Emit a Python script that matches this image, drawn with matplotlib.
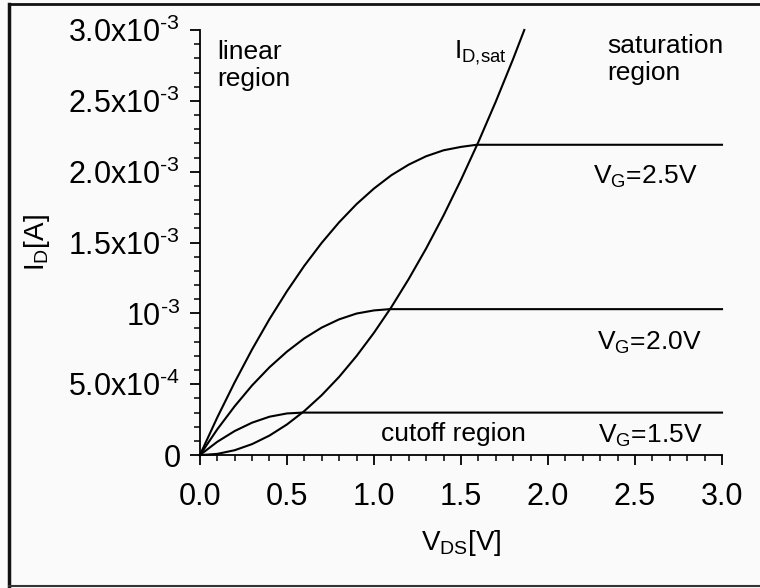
import matplotlib.pyplot as plt
from matplotlib.lines import Line2D
from matplotlib.ticker import FixedLocator, MultipleLocator, FixedFormatter

plt.rcParams['font.family'] = ['Liberation Sans', 'DejaVu Sans']
plt.rcParams['mathtext.fontset'] = 'custom'
plt.rcParams['mathtext.rm'] = 'Liberation Sans'

# drain current vs drain-source voltage, one curve per gate voltage
vds_15 = [0.0, 0.1, 0.2, 0.3, 0.4, 0.5, 0.59, 3.0]
id_15 = [0.0, 9.4e-5, 1.70e-4, 2.29e-4, 2.71e-4, 2.94e-4, 3.0e-4, 3.0e-4]

vds_20 = [0.0, 0.1, 0.2, 0.3, 0.4, 0.5, 0.6, 0.7, 0.8, 0.9, 1.0, 1.09, 3.0]
id_20 = [0.0, 1.82e-4, 3.45e-4, 4.92e-4, 6.20e-4, 7.30e-4, 8.24e-4, 9.00e-4,
         9.58e-4, 9.99e-4, 1.021e-3, 1.03e-3, 1.03e-3]

vds_25 = [0.0, 0.1, 0.2, 0.3, 0.4, 0.5, 0.6, 0.7, 0.8, 0.9, 1.0, 1.1, 1.2,
          1.3, 1.4, 1.5, 1.59, 3.0]
id_25 = [0.0, 2.66e-4, 5.14e-4, 7.46e-4, 9.60e-4, 1.156e-3, 1.336e-3, 1.498e-3,
         1.643e-3, 1.771e-3, 1.881e-3, 1.975e-3, 2.050e-3, 2.109e-3, 2.151e-3,
         2.175e-3, 2.19e-3, 2.19e-3]

# saturation boundary I_D,sat
vds_sat = [0.0, 0.1, 0.2, 0.3, 0.4, 0.5, 0.6, 0.7, 0.8, 0.9, 1.0, 1.1, 1.2,
           1.3, 1.4, 1.5, 1.6, 1.7, 1.8, 1.864]
id_sat = [0.0, 8.6e-6, 3.45e-5, 7.77e-5, 1.38e-4, 2.16e-4, 3.11e-4, 4.23e-4,
          5.52e-4, 6.99e-4, 8.63e-4, 1.044e-3, 1.243e-3, 1.458e-3, 1.691e-3,
          1.942e-3, 2.209e-3, 2.494e-3, 2.796e-3, 3.0e-3]

HY = '\u2010'  # plain hyphen for the exponents
y_ticks = [0, 5e-4, 1e-3, 1.5e-3, 2e-3, 2.5e-3, 3e-3]
y_labels = ['0',
            r'5.0x10$^{\mathregular{%s4}}$' % HY,
            r'10$^{\mathregular{%s3}}$' % HY,
            r'1.5x10$^{\mathregular{%s3}}$' % HY,
            r'2.0x10$^{\mathregular{%s3}}$' % HY,
            r'2.5x10$^{\mathregular{%s3}}$' % HY,
            r'3.0x10$^{\mathregular{%s3}}$' % HY]
x_ticks = [0, 0.5, 1.0, 1.5, 2.0, 2.5, 3.0]
x_labels = ['0.0', '0.5', '1.0', '1.5', '2.0', '2.5', '3.0']

fig = plt.figure(figsize=(7.6, 5.88), dpi=100, facecolor='#fafafa')
ax = fig.add_axes([0.263, 0.226, 0.687, 0.723])
ax.set_facecolor('#fafafa')

for x, y in [(vds_15, id_15), (vds_20, id_20), (vds_25, id_25), (vds_sat, id_sat)]:
    ax.plot(x, y, color='black', lw=1.5, clip_on=False)

ax.set_xlim(0, 3.0)
ax.set_ylim(0, 3e-3)
ax.spines['top'].set_visible(False)
ax.spines['right'].set_visible(False)
for s in ('left', 'bottom'):
    ax.spines[s].set_linewidth(1.3)

ax.set_xticks(x_ticks)
ax.set_xticklabels(x_labels)
ax.xaxis.set_minor_locator(MultipleLocator(0.1))
ax.yaxis.set_major_locator(FixedLocator(y_ticks))
ax.yaxis.set_major_formatter(FixedFormatter(y_labels))
ax.yaxis.set_minor_locator(MultipleLocator(1e-4))

ax.tick_params(which='major', direction='out', length=7, width=1.3, labelsize=22)
ax.tick_params(which='minor', direction='out', length=4, width=1.1)
ax.tick_params(axis='x', which='major', pad=12)
ax.tick_params(axis='y', which='major', pad=7)

ax.set_xlabel(r'V$_{\mathregular{DS}}$[V]', fontsize=20, labelpad=12)
ax.set_ylabel(r'I$_{\mathregular{D}}$[A]', fontsize=20, labelpad=12)

fs = 19
ax.text(0.1, 2.93e-3, 'linear\nregion', fontsize=fs, va='top', ha='left', linespacing=1.15)
ax.text(2.34, 2.97e-3, 'saturation\nregion', fontsize=fs, va='top', ha='left', linespacing=1.15)
ax.text(1.46, 2.8e-3, r'I$_{\mathregular{D{,}sat}}$', fontsize=fs, ha='left', va='baseline')
ax.text(1.04, 1.0e-4, 'cutoff region', fontsize=fs, ha='left', va='baseline')
ax.text(2.26, 1.92e-3, r'V$_{\mathregular{G}}$=2.5V', fontsize=fs, ha='left', va='baseline')
ax.text(2.28, 7.45e-4, r'V$_{\mathregular{G}}$=2.0V', fontsize=fs, ha='left', va='baseline')
ax.text(2.29, 0.9e-4, r'V$_{\mathregular{G}}$=1.5V', fontsize=fs, ha='left', va='baseline')

# outer frame
fig.add_artist(Line2D([0.0118, 0.0118], [0.003, 0.994], color='#111111', lw=2.5))
fig.add_artist(Line2D([0.0118, 1.0], [0.994, 0.994], color='#111111', lw=2))
fig.add_artist(Line2D([0.0118, 1.0], [0.003, 0.003], color='#333333', lw=1.5))

fig.savefig('out.png', dpi=100, facecolor=fig.get_facecolor())
